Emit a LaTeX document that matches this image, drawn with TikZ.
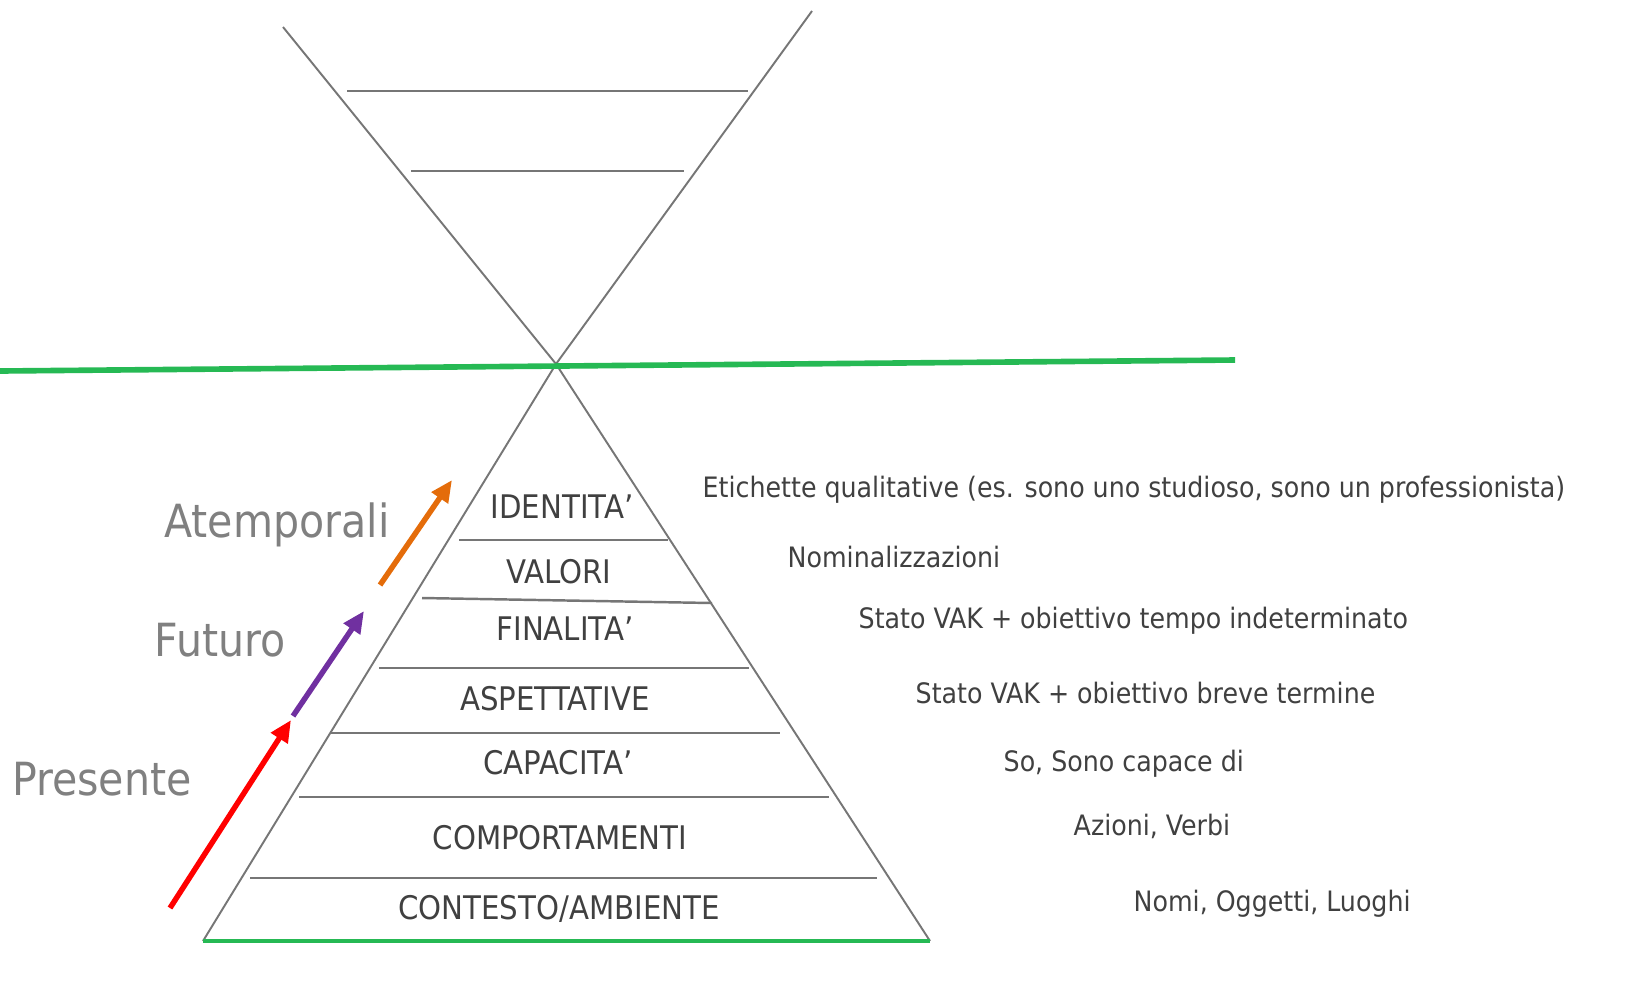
\documentclass[tikz,border=0pt]{standalone}
\usepackage{fontspec}
\setmainfont{DejaVu Sans Condensed}
\usetikzlibrary{arrows.meta}
\definecolor{linegray}{RGB}{118,118,118}
\definecolor{textgray}{RGB}{64,64,64}
\definecolor{biggray}{RGB}{128,128,128}
\definecolor{lgreen}{RGB}{38,185,84}
\definecolor{lred}{RGB}{255,0,0}
\definecolor{lpurple}{RGB}{112,48,160}
\definecolor{lorange}{RGB}{228,108,10}
\tikzset{
  edgeline/.style={draw=linegray, line width=0.55pt},
  levelline/.style={draw=linegray, line width=0.7pt},
  timearrow/.style={line width=1.55pt, -{Triangle[length=6.2pt,width=5.4pt]}}
}
\begin{document}
\begin{tikzpicture}
      \useasboundingbox (0,0) rectangle (16.29,9.80);
      % points of the two triangles
      \coordinate (O) at (5.56,6.16);
      \coordinate (UL) at (2.83,9.53);
      \coordinate (UR) at (8.12,9.69);
      \coordinate (BL) at (2.03,0.39);
      \coordinate (BR) at (9.30,0.39);
      \coordinate (GL) at (0,6.09);
      \coordinate (GR) at (12.35,6.20);
      \path[edgeline] (UL) -- (O) -- (UR);
      \path[edgeline] (BL) -- (O) -- (BR);
      \draw[lgreen, line width=1.6pt] (GL) -- (GR);
      \draw[lgreen, line width=0.9pt] (BL) -- (BR);
      % level lines
      \begin{scope}[every path/.style={levelline}]
        \draw (3.47,8.89) -- (7.48,8.89);
        \draw (4.11,8.09) -- (6.84,8.09);
        \draw (4.59,4.40) -- (6.68,4.40);
        \draw (4.22,3.82) -- (7.12,3.77);
        \draw (3.79,3.12) -- (7.49,3.12);
        \draw (3.30,2.47) -- (7.80,2.47);
        \draw (2.99,1.83) -- (8.29,1.83);
        \draw (2.50,1.02) -- (8.77,1.02);
      \end{scope}
      % levels
      \begin{scope}[every node/.style={text=textgray, font=\fontsize{9.25}{10}\selectfont}]
        \node (ID) at (5.62,4.73) {IDENTITA’};
        \node (VA) at (5.59,4.08) {VALORI};
        \node (FI) at (5.65,3.51) {FINALITA’};
        \node (AS) at (5.55,2.81) {ASPETTATIVE};
        \node (CA) at (5.58,2.17) {CAPACITA’};
        \node (CO) at (5.60,1.42) {COMPORTAMENTI};
        \node (AM) at (5.59,0.71) {CONTESTO/AMBIENTE};
      \end{scope}
      % descriptions
      \begin{scope}[every node/.style={text=textgray, anchor=west, inner sep=0pt, font=\fontsize{8}{10}\selectfont}]
        \node (dID) at (7.02,4.90) {Etichette qualitative (es. sono uno studioso, sono un professionista)};
        \node (dVA) at (7.87,4.23) {Nominalizzazioni};
        \node (dFI) at (8.58,3.59) {Stato VAK + obiettivo tempo indeterminato};
        \node (dAS) at (9.15,2.87) {Stato VAK + obiettivo breve termine};
        \node (dCA) at (10.03,2.16) {So, Sono capace di};
        \node (dCO) at (10.73,1.54) {Azioni, Verbi};
        \node (dAM) at (11.33,0.76) {Nomi, Oggetti, Luoghi};
      \end{scope}
      % time
      \begin{scope}[every node/.style={text=biggray, anchor=base, inner sep=0pt, font=\fontsize{13}{15}\selectfont}]
        \node (at) at (2.77,4.43) {Atemporali};
        \node (fu) at (2.20,3.24) {Futuro};
        \node (pr) at (1.02,1.85) {Presente};
      \end{scope}
      \coordinate (r1) at (1.70,0.72);
      \coordinate (r2) at (2.91,2.60);
      \coordinate (p1) at (2.93,2.64);
      \coordinate (p2) at (3.64,3.69);
      \coordinate (o1) at (3.80,3.95);
      \coordinate (o2) at (4.52,5.00);
      \draw[timearrow, lred] (r1) -- (r2);
      \draw[timearrow, lpurple] (p1) -- (p2);
      \draw[timearrow, lorange] (o1) -- (o2);
    \end{tikzpicture}
\end{document}
